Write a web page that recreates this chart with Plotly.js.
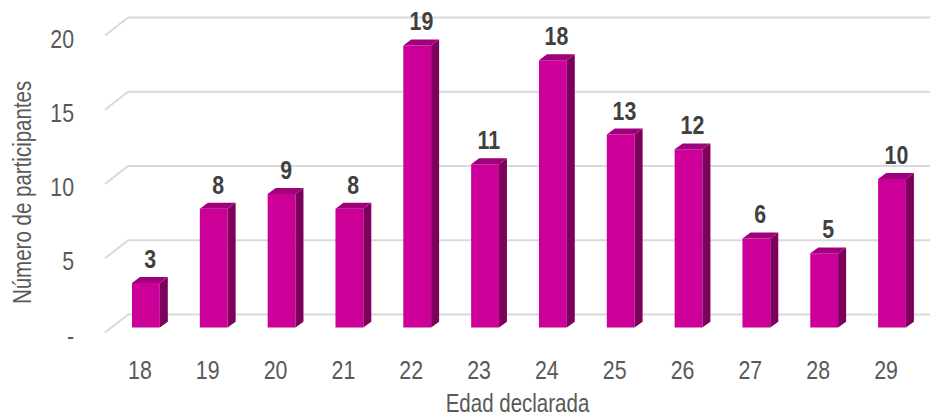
<!DOCTYPE html>
<html>
<head>
<meta charset="utf-8">
<script src="https://cdn.plot.ly/plotly-3.0.1.min.js"></script>
<style>html,body{margin:0;padding:0;background:#fff;}#chart{width:932px;height:417px;}</style>
</head>
<body>
<div id="chart"></div>
<script>
// ---- data ----
const ages = ['18','19','20','21','22','23','24','25','26','27','28','29'];
const counts = [3, 8, 9, 8, 19, 11, 18, 13, 12, 6, 5, 10];
const yTickVals = [0, 5, 10, 15, 20];
const yTickText = ['-', '5', '10', '15', '20'];
const xTitle = 'Edad declarada';
const yTitle = 'Número de participantes';

// ---- style / geometry ----
const FONT = '"Liberation Sans Narrow", "Arial Narrow", "Liberation Sans", Arial, sans-serif';
const CONDENSE = 0.82;   // narrow-font emulation
const FRONT = '#CC0099', SIDE = '#7D005D', TOP = '#A0007A';
const BAR_W = 0.41;      // category units
const DX = 0.118;        // depth, x (category units)
const DY = 0.40;         // depth, y (value units)
const X_MIN = -0.603, X_MAX = 11.56;
const Y_MIN = -0.5, Y_MAX = 21.72;
const GRID_FRONT = -0.337, GRID_BACK = 0.875, GRID_XB = 0.0279;

const xs = ages.map((_, i) => i);

// side and top faces of the 3D columns, from the data
const sideX = [], sideY = [], topX = [], topY = [];
xs.forEach((x, i) => {
  const v = counts[i], r = x + BAR_W / 2, l = x - BAR_W / 2;
  sideX.push(r, r + DX, r + DX, r, r, null);
  sideY.push(0, DY, v + DY, v, 0, null);
  topX.push(l, l + DX, r + DX, r, l, null);
  topY.push(v, v + DY, v + DY, v, v, null);
});

const traces = [
  { type: 'bar', x: xs, y: counts, width: BAR_W, marker: { color: FRONT, line: { width: 0 } },
    hoverinfo: 'x+y', name: yTitle },
  { type: 'scatter', x: sideX, y: sideY, mode: 'lines', fill: 'toself', fillcolor: SIDE,
    line: { width: 0, color: SIDE }, hoverinfo: 'skip', showlegend: false },
  { type: 'scatter', x: topX, y: topY, mode: 'lines', fill: 'toself', fillcolor: TOP,
    line: { width: 0, color: TOP }, hoverinfo: 'skip', showlegend: false }
];

// back-wall gridlines with perspective diagonals
const shapeList = [];
yTickVals.forEach(v => {
  shapeList.push({ type: 'line', xref: 'paper', yref: 'y', layer: 'below',
    x0: 0, y0: v + GRID_FRONT, x1: GRID_XB, y1: v + GRID_BACK,
    line: { color: '#D9D9D9', width: 2 } });
  shapeList.push({ type: 'line', xref: 'paper', yref: 'y', layer: 'below',
    x0: GRID_XB, y0: v + GRID_BACK, x1: 1, y1: v + GRID_BACK,
    line: { color: '#D9D9D9', width: 2 } });
});

const annotations = xs.map((x, i) => ({
  x: x + DX / 2, y: counts[i], xref: 'x', yref: 'y', text: String(counts[i]),
  showarrow: false, yanchor: 'middle', yshift: 24,
  font: { family: FONT, size: 26, color: '#404040', weight: 'bold' }
}));
annotations.push({
  xref: 'paper', yref: 'paper', x: -0.1, y: 0.43, text: yTitle, textangle: -90,
  showarrow: false, xanchor: 'center', yanchor: 'middle',
  font: { family: FONT, size: 25, color: '#595959' }
});

const layout = {
  width: 932, height: 417,
  margin: { l: 105, r: 2, t: 5, b: 82 },
  paper_bgcolor: '#fff', plot_bgcolor: 'rgba(0,0,0,0)',
  showlegend: false,
  font: { family: FONT, color: '#595959', size: 26 },
  xaxis: {
    range: [X_MIN, X_MAX], tickvals: xs, ticktext: ages,
    showgrid: false, zeroline: false, showline: false, ticks: '',
    ticklabelstandoff: 17, ticklabelshift: -6,
    tickfont: { family: FONT, size: 26, color: '#595959' },
    title: { text: xTitle, standoff: 10, font: { family: FONT, size: 25, color: '#595959' } }
  },
  yaxis: {
    range: [Y_MIN, Y_MAX], tickvals: yTickVals, ticktext: yTickText,
    showgrid: false, zeroline: false, showline: false, ticks: '',
    ticklabelstandoff: 30, ticklabelshift: 8,
    tickfont: { family: FONT, size: 26, color: '#595959' }
  },
  shapes: shapeList,
  annotations: annotations
};

Plotly.newPlot('chart', traces, layout, { displayModeBar: false, staticPlot: true }).then(gd => {
  // emulate the narrow typeface of the original by condensing glyphs
  gd.querySelectorAll('svg text').forEach(t => {
    const L = t.getComputedTextLength();
    if (L > 0) {
      t.setAttribute('textLength', (L * CONDENSE).toFixed(2));
      t.setAttribute('lengthAdjust', 'spacingAndGlyphs');
    }
  });
});
</script>
</body>
</html>
